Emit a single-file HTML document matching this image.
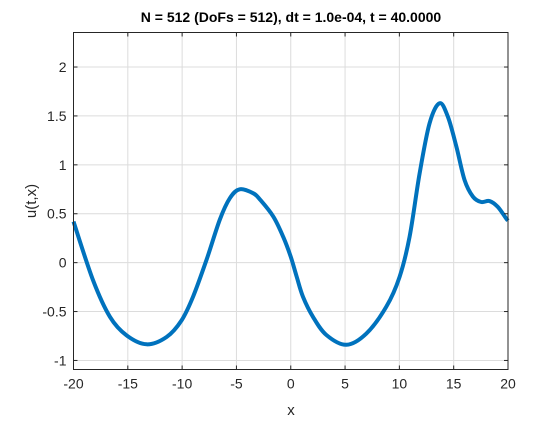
<!DOCTYPE html>
<html><head><meta charset="utf-8"><style>
body{margin:0;background:#fff;}
svg text{font-family:"Liberation Sans",Arial,sans-serif;}
</style></head><body>
<svg width="560" height="420" viewBox="0 0 560 420">
<rect width="560" height="420" fill="#fff"/>
<g id="grid"></g>
<g id="series"></g>
<g id="axes"></g>
<text x="291" y="22" text-anchor="middle" font-size="14" font-weight="bold" fill="#000">N = 512 (DoFs = 512), dt = 1.0e-04, t = 40.0000</text>
<text x="291" y="415" text-anchor="middle" font-size="15" fill="#262626">x</text>
<text transform="translate(36,201) rotate(-90)" text-anchor="middle" font-size="15" fill="#262626">u(t,x)</text>
</svg>
<script>
const xs=[-20,-18.2,-16.64,-15.1,-13.27,-11.43,-10.05,-9.0,-7.75,-6.53,-5.6,-4.7,-3.47,-2.83,-1.6,-0.68,0,0.55,1.13,2.05,3.28,5.12,6.96,8.8,10.02,10.94,11.86,12.78,13.7,14.47,15.24,16.0,16.77,17.53,18.3,19.06,19.84,20];
const us=[0.42,-0.18,-0.555,-0.745,-0.835,-0.76,-0.59,-0.35,0.03,0.44,0.66,0.75,0.71,0.645,0.47,0.26,0.06,-0.145,-0.35,-0.555,-0.74,-0.84,-0.725,-0.45,-0.145,0.265,0.91,1.425,1.63,1.49,1.19,0.845,0.675,0.62,0.63,0.57,0.45,0.43];
const xTicks=[-20,-15,-10,-5,0,5,10,15,20];
const yTicks=[-1,-0.5,0,0.5,1,1.5,2];
const yTickLabels=["-1","-0.5","0","0.5","1","1.5","2"];
const L=73.5,R=508,T=32.5,B=369.5,xmin=-20,xmax=20,ymin=-1.0925,ymax=2.353;
const sx=x=>L+(x-xmin)/(xmax-xmin)*(R-L);
const sy=y=>B-(y-ymin)/(ymax-ymin)*(B-T);
const NS="http://www.w3.org/2000/svg";
function mk(tag,attrs,parent){const e=document.createElementNS(NS,tag);for(const k in attrs)e.setAttribute(k,attrs[k]);parent.appendChild(e);return e;}
const grid=document.getElementById('grid'),axes=document.getElementById('axes'),series=document.getElementById('series');
xTicks.forEach((t,i)=>{
 const g=mk('line',{x1:sx(t),x2:sx(t),y1:T,y2:B,stroke:'#dcdcdc','stroke-width':1},grid);
 
 
 const tk=mk('line',{x1:sx(t),x2:sx(t),y1:B,y2:B-4,stroke:'#262626','stroke-width':1},axes);
 
 
 const tk2=mk('line',{x1:sx(t),x2:sx(t),y1:T,y2:T+4,stroke:'#262626','stroke-width':1},axes);
 
 
 const lb=mk('text',{x:sx(t),y:B+19,'text-anchor':'middle','font-size':14,fill:'#262626'},axes);
 lb.textContent=String(t);
 
 
});
yTicks.forEach((t,i)=>{
 const g=mk('line',{x1:L,x2:R,y1:sy(t),y2:sy(t),stroke:'#dcdcdc','stroke-width':1},grid);
 
 
 const tk=mk('line',{x1:L,x2:L+4,y1:sy(t),y2:sy(t),stroke:'#262626','stroke-width':1},axes);
 
 
 const tk2=mk('line',{x1:R,x2:R-4,y1:sy(t),y2:sy(t),stroke:'#262626','stroke-width':1},axes);
 
 
 const lb=mk('text',{x:L-7,y:sy(t)+5,'text-anchor':'end','font-size':14,fill:'#262626'},axes);
 lb.textContent=yTickLabels[i];
 
 
});
const box=mk('rect',{x:L,y:T,width:R-L,height:B-T,fill:'none',stroke:'#262626','stroke-width':1},axes);


const P=xs.map((x,i)=>[sx(x),sy(us[i])]);
let d='M'+P[0][0].toFixed(2)+','+P[0][1].toFixed(2);
for(let i=0;i<P.length-1;i++){
 const p0=P[Math.max(0,i-1)],p1=P[i],p2=P[i+1],p3=P[Math.min(P.length-1,i+2)];
 const c1=[p1[0]+(p2[0]-p0[0])/6,p1[1]+(p2[1]-p0[1])/6];
 const c2=[p2[0]-(p3[0]-p1[0])/6,p2[1]-(p3[1]-p1[1])/6];
 d+=' C'+c1.map(v=>v.toFixed(2)).join(',')+' '+c2.map(v=>v.toFixed(2)).join(',')+' '+p2.map(v=>v.toFixed(2)).join(',');
}
const line=mk('path',{d:d,fill:'none',stroke:'#0072bd','stroke-width':4,'stroke-linejoin':'round','stroke-linecap':'butt'},series);


</script>
</body></html>
